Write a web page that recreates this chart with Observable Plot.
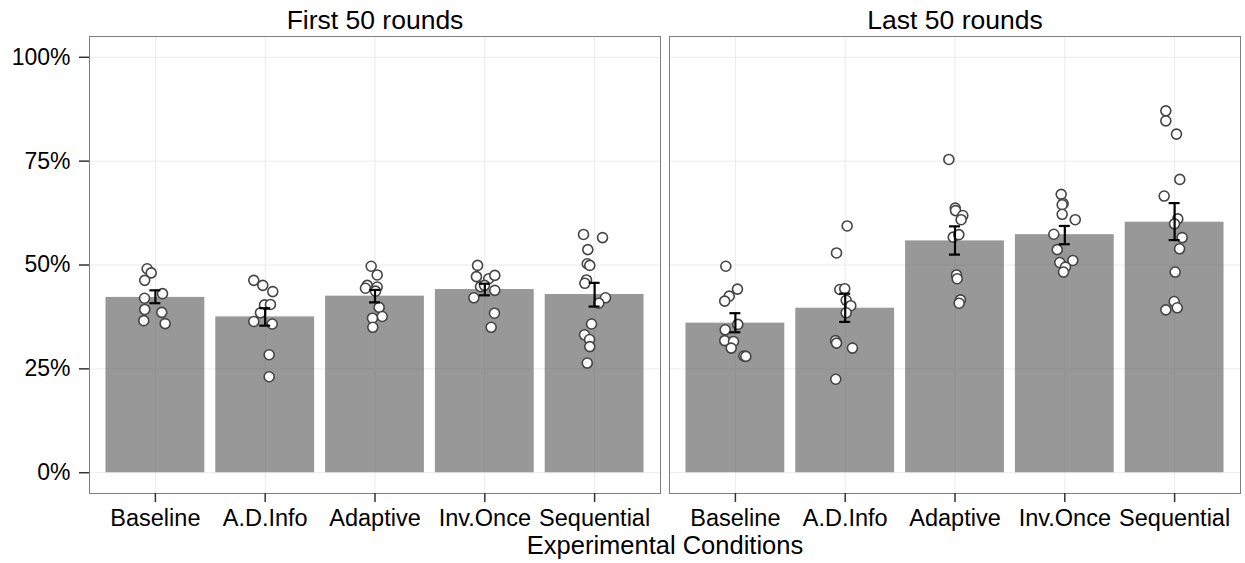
<!DOCTYPE html>
<html>
<head>
<meta charset="utf-8">
<script src="https://cdn.jsdelivr.net/npm/d3@7"></script>
<script src="https://cdn.jsdelivr.net/npm/@observablehq/plot@0.6"></script>
<style>
  html, body { margin: 0; padding: 0; background: #fff; }
  #chart { width: 1245px; height: 563px; }
</style>
</head>
<body>
<div id="chart"></div>
<script>
const conditions = ["Baseline", "A.D.Info", "Adaptive", "Inv.Once", "Sequential"];
const phases = ["First 50 rounds", "Last 50 rounds"];
const yTicks = [0, 0.25, 0.5, 0.75, 1];

// bar heights and error-bar ends (fractions)
const firstMean = [0.422, 0.375, 0.425, 0.441, 0.429];
const firstLo   = [0.408, 0.354, 0.410, 0.427, 0.400];
const firstHi   = [0.439, 0.396, 0.440, 0.455, 0.457];
const lastMean  = [0.360, 0.396, 0.558, 0.573, 0.603];
const lastLo    = [0.338, 0.363, 0.525, 0.550, 0.560];
const lastHi    = [0.384, 0.431, 0.593, 0.594, 0.649];

// individual group values (fractions) and their horizontal jitter (category units)
const firstPoints = [
  [0.491, 0.481, 0.463, 0.431, 0.420, 0.393, 0.386, 0.359, 0.366],
  [0.463, 0.451, 0.436, 0.404, 0.405, 0.385, 0.364, 0.358, 0.284, 0.231],
  [0.497, 0.476, 0.451, 0.447, 0.444, 0.437, 0.398, 0.376, 0.372, 0.350],
  [0.499, 0.472, 0.467, 0.475, 0.448, 0.439, 0.421, 0.451, 0.384, 0.350],
  [0.5735, 0.566, 0.537, 0.503, 0.499, 0.464, 0.456, 0.421, 0.408, 0.358, 0.332, 0.3205, 0.3036, 0.264]
];
const firstJitter = [
  [-0.075, -0.038, -0.097, 0.065, -0.099, -0.097, 0.058, 0.089, -0.106],
  [-0.104, -0.022, 0.069, -0.006, 0.048, -0.043, -0.104, 0.064, 0.036, 0.036],
  [-0.035, 0.020, -0.071, 0.020, -0.087, 0.005, 0.038, 0.066, -0.023, -0.020],
  [-0.066, -0.076, 0.036, 0.091, -0.039, 0.091, -0.100, -0.003, 0.088, 0.058],
  [-0.101, 0.072, -0.062, -0.067, -0.044, -0.074, -0.089, 0.099, 0.038, -0.028, -0.092, -0.046, -0.044, -0.067]
];
const lastPoints = [
  [0.497, 0.442, 0.425, 0.413, 0.357, 0.344, 0.318, 0.316, 0.300, 0.281, 0.280],
  [0.594, 0.529, 0.441, 0.443, 0.415, 0.402, 0.385, 0.318, 0.312, 0.300, 0.225],
  [0.754, 0.637, 0.631, 0.619, 0.609, 0.567, 0.573, 0.476, 0.467, 0.416, 0.408],
  [0.670, 0.648, 0.645, 0.622, 0.609, 0.574, 0.537, 0.506, 0.511, 0.495, 0.483],
  [0.871, 0.847, 0.815, 0.706, 0.666, 0.611, 0.599, 0.566, 0.539, 0.483, 0.412, 0.397, 0.392]
];
const lastJitter = [
  [-0.087, 0.019, -0.056, -0.097, 0.022, -0.093, -0.097, -0.017, -0.038, 0.077, 0.095],
  [0.018, -0.079, -0.049, -0.004, 0.009, 0.051, 0.009, -0.088, -0.079, 0.066, -0.086],
  [-0.056, 0.002, 0.005, 0.071, 0.056, -0.016, 0.035, 0.014, 0.020, 0.050, 0.038],
  [-0.033, -0.015, -0.024, -0.024, 0.095, -0.100, -0.069, -0.046, 0.073, 0.006, -0.012],
  [-0.080, -0.080, 0.017, 0.047, -0.095, 0.029, -0.001, 0.069, 0.045, 0.005, -0.004, 0.024, -0.080]
];

// build tables
const bars = [];
const pts = [];
[[firstMean, firstLo, firstHi, firstPoints, firstJitter], [lastMean, lastLo, lastHi, lastPoints, lastJitter]]
  .forEach(([m, lo, hi, P, J], p) => {
    conditions.forEach((c, k) => {
      bars.push({phase: phases[p], i: k + 1, mean: m[k], lo: lo[k], hi: hi[k]});
      P[k].forEach((v, n) => pts.push({phase: phases[p], i: k + 1, v, j: J[k][n]}));
    });
  });

const font = "Liberation Sans, Arial, Helvetica, sans-serif";

const chart = Plot.plot({
  width: 1245,
  height: 563,
  marginLeft: 89,
  marginRight: 5,
  marginTop: 36,
  marginBottom: 70,
  style: {fontFamily: font, background: "#fff", color: "black"},
  fx: {domain: phases, paddingInner: 9 / 580, paddingOuter: 0, label: null},
  x: {type: "linear", domain: [0.4, 5.6], label: null},
  y: {domain: [-0.05, 1.05], label: null},
  marks: [
    Plot.gridX([1, 2, 3, 4, 5], {stroke: "#ebebeb", strokeOpacity: 1, strokeWidth: 1}),
    Plot.gridY(yTicks, {stroke: "#ebebeb", strokeOpacity: 1, strokeWidth: 1}),
    Plot.rectY(bars, {fx: "phase", x1: d => d.i - 0.45, x2: d => d.i + 0.45, y1: 0, y2: "mean", fill: "#595959", fillOpacity: 0.62}),
    Plot.dot(pts, {fx: "phase", x: d => d.i + d.j, y: "v", r: 5, fill: "white", stroke: "#444", strokeWidth: 1.6}),
    Plot.ruleX(bars, {fx: "phase", x: "i", y1: "lo", y2: "hi", stroke: "black", strokeWidth: 2.2}),
    Plot.ruleY(bars, {fx: "phase", y: "lo", x1: d => d.i - 0.05, x2: d => d.i + 0.05, stroke: "black", strokeWidth: 2.2}),
    Plot.ruleY(bars, {fx: "phase", y: "hi", x1: d => d.i - 0.05, x2: d => d.i + 0.05, stroke: "black", strokeWidth: 2.2}),
    Plot.frame({stroke: "#7f7f7f", strokeWidth: 1}),
    Plot.axisY({ticks: yTicks, tickFormat: d => `${Math.round(d * 100)}%`, tickSize: 10, tickPadding: 9, fontSize: 23, color: "black", stroke: "#333", strokeWidth: 1.5, label: null}),
    Plot.axisX({ticks: [1, 2, 3, 4, 5], tickFormat: d => conditions[d - 1], tickSize: 9, tickPadding: 7, fontSize: 23.5, color: "black", stroke: "#333", strokeWidth: 1.5, label: null}),
    Plot.axisFx({anchor: "top", tickSize: 0, tickPadding: 8, fontSize: 26.5, color: "black", label: null}),
    Plot.text(["Experimental Conditions"], {frameAnchor: "bottom", facet: "super", dy: 60, fontSize: 25.5, fill: "black"})
  ]
});
document.getElementById("chart").appendChild(chart);
</script>
</body>
</html>
